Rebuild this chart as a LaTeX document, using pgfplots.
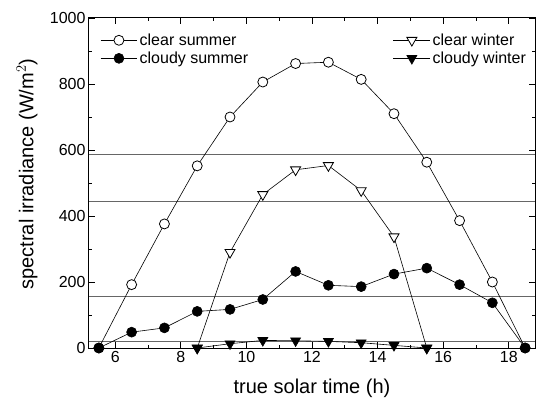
\documentclass[border=0pt]{standalone}
\usepackage{fontspec}
\setmainfont{Liberation Sans}
\usepackage{pgfplots}
\pgfplotsset{compat=1.18}
\begin{document}
\begin{tikzpicture}
\begin{axis}[
  scale only axis, width=446bp, height=330bp,
  xmin=5.2, xmax=18.8, ymin=0, ymax=1000,
  xtick={6,8,...,18}, minor x tick num=1,
  ytick={0,200,...,1000}, minor y tick num=1,
  tick align=inside, major tick length=6bp, minor tick length=3.5bp,
  axis line style={line width=1bp},
  every tick/.style={black, line width=0.9bp},
  /pgf/number format/assume math mode=true,
  /pgf/number format/1000 sep={},
  ticklabel style={font=\fontsize{16bp}{18bp}\selectfont},
  xlabel={true solar time (h)},
  ylabel={spectral irradiance (W/m$^2$)},
  xlabel style={font=\fontsize{20bp}{22bp}\selectfont, at={(axis description cs:0.5,-0.121)}, anchor=center},
  ylabel style={font=\fontsize{20bp}{22bp}\selectfont, at={(axis description cs:-0.139,0.527)}, anchor=center},
  legend columns=2,
  legend style={draw=none, fill=none, at={(axis description cs:0.018,0.965)}, anchor=north west,
    font=\fontsize{16bp}{18bp}\selectfont, row sep=1bp,
    /tikz/every even column/.append style={column sep=143bp}},
  legend cell align=left,
  legend image code/.code={\draw[mark repeat=2,mark phase=2] plot coordinates {(0cm,0cm)(0.65cm,0cm)(1.3cm,0cm)};},
]
\addplot[gray!80!black, line width=1.1bp, forget plot] coordinates {(5.2,585)(18.8,585)};
\addplot[gray!80!black, line width=1.1bp, forget plot] coordinates {(5.2,443)(18.8,443)};
\addplot[gray!80!black, line width=1.1bp, forget plot] coordinates {(5.2,155)(18.8,155)};
\addplot[gray!80!black, line width=1.1bp, forget plot] coordinates {(5.2,20)(18.8,20)};
% clear summer
\addplot[black, line width=0.6bp, mark=*, mark options={fill=white, line width=0.8bp}, mark size=5bp] coordinates {
(5.5,0)(6.5,192)(7.5,376)(8.5,552)(9.5,700)(10.5,806)(11.5,862)(12.5,866)(13.5,814)(14.5,710)(15.5,563)(16.5,386)(17.5,200)(18.5,0)};
\addlegendentry{clear summer}
% clear winter
\addplot[black, line width=0.6bp, mark=triangle*, mark options={fill=white, rotate=180, line width=0.8bp}, mark size=5.8bp] coordinates {
(8.5,0)(9.5,290)(10.5,465)(11.5,540)(12.5,553)(13.5,477)(14.5,337)(15.5,0)};
\addlegendentry{clear winter}
% cloudy summer
\addplot[black, line width=0.6bp, mark=*, mark options={fill=black}, mark size=5bp] coordinates {
(5.5,0)(6.5,48)(7.5,61)(8.5,111)(9.5,117)(10.5,147)(11.5,232)(12.5,190)(13.5,186)(14.5,224)(15.5,242)(16.5,192)(17.5,137)(18.5,0)};
\addlegendentry{cloudy summer}
% cloudy winter
\addplot[black, line width=0.6bp, mark=triangle*, mark options={fill=black, rotate=180}, mark size=5.8bp] coordinates {
(8.5,0)(9.5,13)(10.5,23)(11.5,22)(12.5,20)(13.5,16)(14.5,8)(15.5,0)};
\addlegendentry{cloudy winter}
\end{axis}
\pgfresetboundingbox
\path (current axis.south west) ++(-89bp,-55bp) rectangle ++(537bp,403bp);
\end{tikzpicture}
\end{document}
